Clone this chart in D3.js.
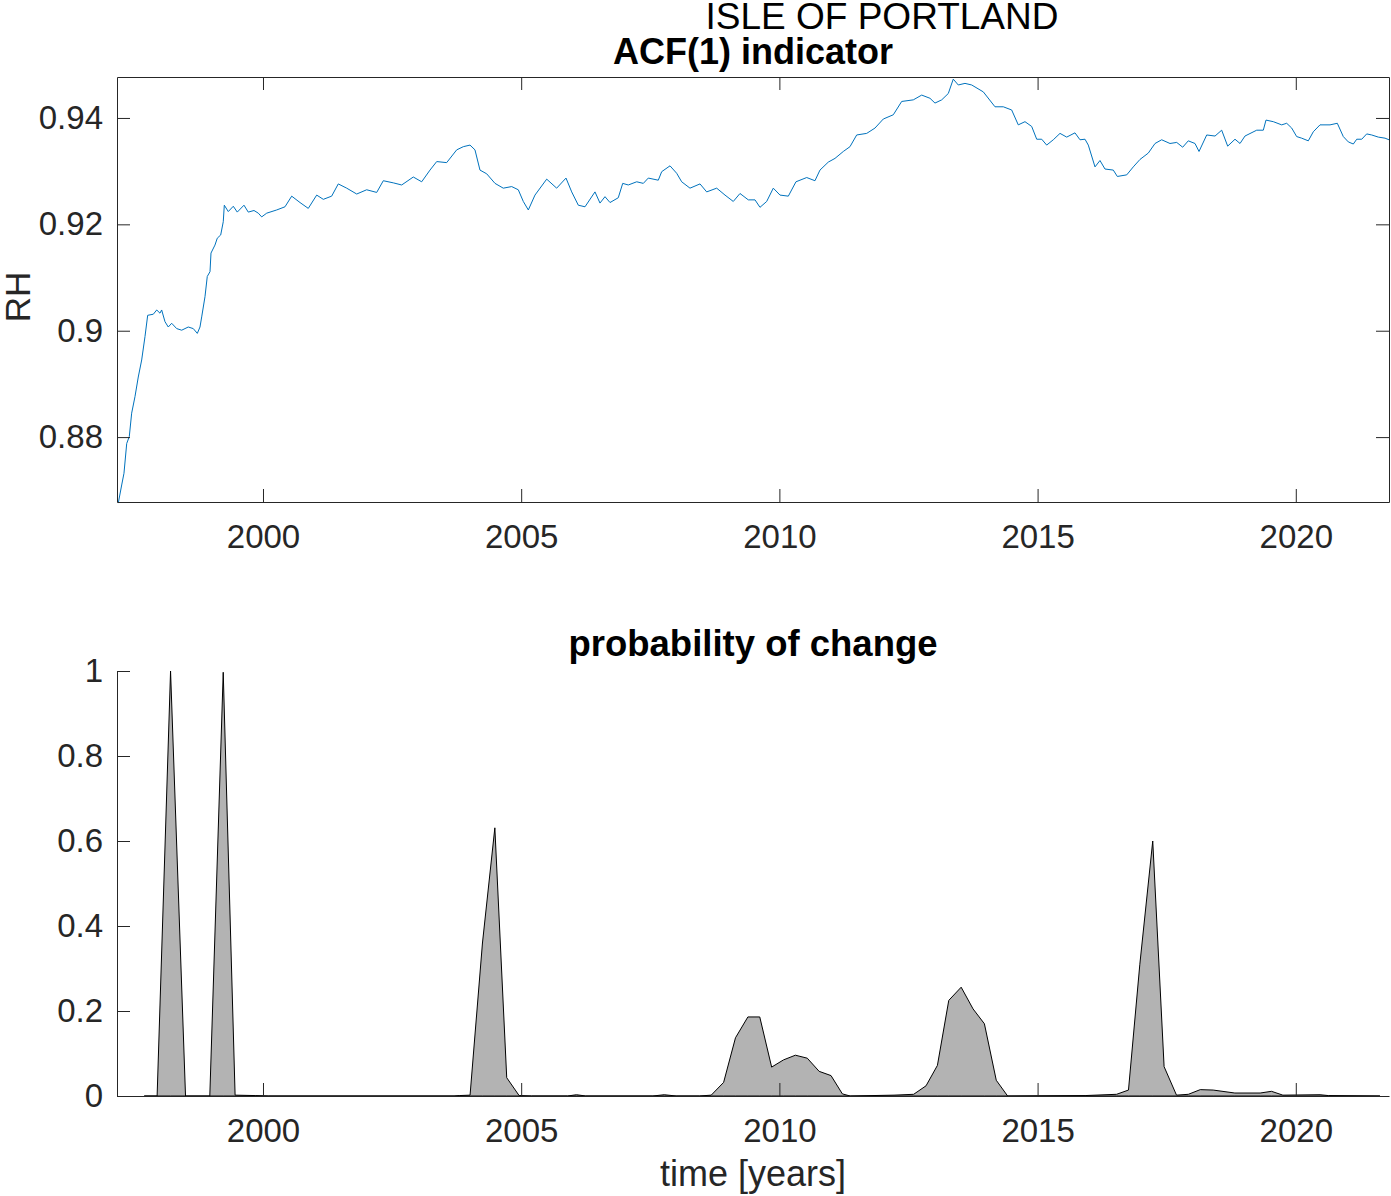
<!DOCTYPE html>
<html><head><meta charset="utf-8">
<script src="https://cdn.jsdelivr.net/npm/d3@7"></script>
<style>
body{margin:0;background:#fff}
text{font-family:"Liberation Sans",Arial,Helvetica,sans-serif}
</style>
</head><body>
<svg id="chart" width="1391" height="1196"></svg>
<script>
// ---------------- data ----------------
const acfYears = [1997.198,1997.264,1997.308,1997.361,1997.411,1997.457,1997.521,1997.585,1997.651,1997.715,
1997.767,1997.876,1997.942,1998.005,1998.038,1998.102,1998.166,1998.232,1998.329,1998.426,
1998.553,1998.650,1998.728,1998.780,1998.813,1998.877,1998.921,1998.974,1998.993,1999.070,
1999.115,1999.181,1999.231,1999.251,1999.328,1999.425,1999.502,1999.632,1999.715,1999.826,
1999.909,1999.975,2000.072,2000.265,2000.426,2000.556,2000.717,2000.877,2001.040,2001.168,
2001.330,2001.458,2001.621,2001.815,2002.008,2002.202,2002.330,2002.523,2002.686,2002.911,
2003.073,2003.234,2003.364,2003.557,2003.751,2003.879,2004.009,2004.105,2004.202,2004.332,
2004.493,2004.653,2004.816,2004.944,2005.041,2005.138,2005.267,2005.494,2005.687,2005.868,
2005.978,2006.106,2006.236,2006.429,2006.526,2006.623,2006.720,2006.880,2006.966,2007.074,
2007.237,2007.365,2007.461,2007.655,2007.721,2007.882,2008.011,2008.108,2008.269,2008.463,
2008.592,2008.786,2008.947,2009.107,2009.237,2009.398,2009.528,2009.624,2009.754,2009.882,
2010.012,2010.173,2010.321,2010.529,2010.689,2010.786,2010.947,2011.077,2011.238,2011.367,
2011.497,2011.691,2011.851,2012.012,2012.206,2012.368,2012.593,2012.756,2012.916,2013.013,
2013.143,2013.271,2013.367,2013.464,2013.594,2013.724,2013.949,2014.175,2014.336,2014.498,
2014.626,2014.756,2014.886,2014.983,2015.080,2015.176,2015.304,2015.434,2015.564,2015.724,
2015.821,2015.918,2015.982,2016.112,2016.208,2016.305,2016.466,2016.544,2016.726,2016.853,
2016.983,2017.144,2017.274,2017.403,2017.564,2017.694,2017.810,2017.918,2018.048,2018.126,
2018.275,2018.436,2018.565,2018.681,2018.823,2018.920,2019.016,2019.243,2019.371,2019.423,
2019.565,2019.727,2019.824,2019.921,2020.017,2020.114,2020.242,2020.339,2020.469,2020.663,
2020.804,2020.920,2021.017,2021.114,2021.180,2021.277,2021.373,2021.470,2021.598,2021.728,
2021.805];
const acfValues = [0.8676,0.8710,0.8732,0.8788,0.8801,0.8845,0.8876,0.8913,0.8945,0.8989,
0.9029,0.9031,0.9039,0.9033,0.9039,0.9017,0.9007,0.9014,0.9004,0.9001,
0.9007,0.9004,0.8995,0.9007,0.9026,0.9064,0.9102,0.9111,0.9146,0.9161,
0.9174,0.9180,0.9205,0.9236,0.9224,0.9234,0.9223,0.9236,0.9223,0.9226,
0.9221,0.9214,0.9221,0.9227,0.9233,0.9253,0.9241,0.9230,0.9255,0.9247,
0.9253,0.9276,0.9268,0.9257,0.9265,0.9260,0.9282,0.9278,0.9274,0.9289,
0.9280,0.9302,0.9318,0.9316,0.9340,0.9346,0.9349,0.9340,0.9302,0.9295,
0.9277,0.9268,0.9271,0.9265,0.9243,0.9227,0.9255,0.9285,0.9268,0.9287,
0.9261,0.9236,0.9233,0.9261,0.9240,0.9252,0.9241,0.9250,0.9277,0.9274,
0.9280,0.9277,0.9287,0.9283,0.9299,0.9310,0.9296,0.9280,0.9268,0.9276,
0.9261,0.9268,0.9255,0.9243,0.9258,0.9246,0.9246,0.9232,0.9243,0.9268,
0.9255,0.9253,0.9280,0.9288,0.9282,0.9302,0.9317,0.9324,0.9337,0.9346,
0.9368,0.9371,0.9381,0.9398,0.9406,0.9431,0.9434,0.9443,0.9437,0.9428,
0.9434,0.9446,0.9473,0.9462,0.9465,0.9462,0.9449,0.9421,0.9421,0.9415,
0.9387,0.9393,0.9384,0.9360,0.9360,0.9349,0.9359,0.9371,0.9364,0.9372,
0.9359,0.9360,0.9349,0.9308,0.9320,0.9304,0.9302,0.9290,0.9293,0.9308,
0.9322,0.9334,0.9352,0.9359,0.9352,0.9354,0.9345,0.9357,0.9352,0.9337,
0.9368,0.9366,0.9377,0.9347,0.9360,0.9352,0.9366,0.9377,0.9377,0.9396,
0.9393,0.9387,0.9390,0.9381,0.9365,0.9362,0.9357,0.9374,0.9387,0.9387,
0.9390,0.9365,0.9355,0.9351,0.9360,0.9360,0.9370,0.9368,0.9364,0.9362,
0.9359];

const probYears = [1997.70,1997.95,1998.21,1998.50,1998.97,1999.23,1999.46,1999.85,2000.10,
2003.70,2003.80,2004.01,2004.25,2004.49,2004.72,2004.96,2005.20,
2005.90,2006.07,2006.25,2007.55,2007.77,2008.00,
2008.45,2008.68,2008.92,2009.15,2009.39,2009.62,2009.85,2010.08,2010.31,2010.54,2010.77,2011.00,2011.22,2011.37,
2012.22,2012.60,2012.84,2013.06,2013.28,2013.52,2013.75,2013.97,2014.20,2014.42,
2015.92,2016.53,2016.76,2016.98,2017.23,2017.45,2017.69,2017.92,2018.15,2018.40,2018.82,
2019.31,2019.53,2019.75,2020.47,2020.63,2021.63];
const probValues = [0,0,1.0,0,0,0.997,0.002,0.001,0,
0,0.001,0.002,0.36,0.631,0.043,0.001,0,
0,0.003,0,0,0.003,0,
0,0.002,0.032,0.137,0.186,0.186,0.068,0.085,0.096,0.089,0.058,0.048,0.005,0,
0.002,0.004,0.024,0.072,0.225,0.256,0.205,0.170,0.037,0,
0.001,0.004,0.014,0.31,0.600,0.069,0.002,0.004,0.015,0.014,0.007,
0.007,0.011,0.002,0.003,0.001,0];

const xTickValues = [2000, 2005, 2010, 2015, 2020];
const acfTickValues = [0.88, 0.90, 0.92, 0.94];
const acfTickLabels = ["0.88", "0.9", "0.92", "0.94"];
const probTickValues = [0, 0.2, 0.4, 0.6, 0.8, 1];
const probTickLabels = ["0", "0.2", "0.4", "0.6", "0.8", "1"];
const xDomain = [1997.173, 2021.805];
const acfDomain = [0.8678, 0.9477];
const probDomain = [0, 1];

const superTitle = "ISLE OF PORTLAND";
const topTitle = "ACF(1) indicator";
const bottomTitle = "probability of change";
const topYLabel = "RH";
const bottomXLabel = "time [years]";

// ---------------- drawing ----------------
const svg = d3.select("#chart");
const AX = "#262626";
const L = 117, R = 1389;
const T1 = 77, B1 = 502;
const T2 = 671, B2 = 1096;
const tick = 13;

const x = d3.scaleLinear().domain(xDomain).range([L, R]);
const y1 = d3.scaleLinear().domain(acfDomain).range([B1, T1]);
const y2 = d3.scaleLinear().domain(probDomain).range([B2, T2]);

function styleAxis(g, withLabels){
  g.selectAll("path.domain").attr("stroke", AX).attr("stroke-width", 1);
  g.selectAll(".tick line").attr("stroke", AX).attr("stroke-width", 1);
  g.selectAll(".tick text").attr("fill", AX).attr("font-size", 33)
    .attr("font-family", '"Liberation Sans",Arial,Helvetica,sans-serif');
  if(!withLabels) g.selectAll(".tick text").remove();
}

// ---- top axes ----
const gTop = svg.append("g");
gTop.append("path")
  .datum(acfYears.map((t,i)=>[t, acfValues[i]]))
  .attr("fill","none").attr("stroke","#0072BD").attr("stroke-width",1)
  .attr("stroke-linejoin","round")
  .attr("d", d3.line().x(d=>x(d[0])).y(d=>y1(d[1])));

const xb1 = gTop.append("g").attr("transform",`translate(0,${B1})`)
  .call(d3.axisBottom(x).tickValues(xTickValues).tickFormat(d3.format("d"))
    .tickSizeInner(-tick).tickSizeOuter(0).tickPadding(23));
styleAxis(xb1, true);
const xt1 = gTop.append("g").attr("transform",`translate(0,${T1})`)
  .call(d3.axisTop(x).tickValues(xTickValues).tickSizeInner(-tick).tickSizeOuter(0));
styleAxis(xt1, false);
const yl1 = gTop.append("g").attr("transform",`translate(${L},0)`)
  .call(d3.axisLeft(y1).tickValues(acfTickValues).tickFormat((d,i)=>acfTickLabels[i])
    .tickSizeInner(-tick).tickSizeOuter(0).tickPadding(14));
styleAxis(yl1, true);
const yr1 = gTop.append("g").attr("transform",`translate(${R},0)`)
  .call(d3.axisRight(y1).tickValues(acfTickValues).tickSizeInner(-tick).tickSizeOuter(0));
styleAxis(yr1, false);

gTop.append("text").attr("x",(L+R)/2).attr("y",64).attr("text-anchor","middle")
  .attr("font-size",36).attr("font-weight","bold").attr("fill","#000").text(topTitle);
gTop.append("text").attr("transform",`translate(30,297) rotate(-90)`).attr("text-anchor","middle")
  .attr("font-size",35).attr("fill",AX).text(topYLabel);

svg.append("text").attr("x",882).attr("y",29).attr("text-anchor","middle")
  .attr("font-size",37).attr("fill","#000").text(superTitle);

// ---- bottom axes ----
const gBot = svg.append("g");
gBot.append("path")
  .datum(probYears.map((t,i)=>[t, probValues[i]]))
  .attr("fill","#b3b3b3").attr("stroke","#000").attr("stroke-width",1)
  .attr("stroke-linejoin","round")
  .attr("d", d3.area().x(d=>x(d[0])).y0(y2(0)).y1(d=>y2(d[1])));

const xb2 = gBot.append("g").attr("transform",`translate(0,${B2})`)
  .call(d3.axisBottom(x).tickValues(xTickValues).tickFormat(d3.format("d"))
    .tickSizeInner(-tick).tickSizeOuter(0).tickPadding(23));
styleAxis(xb2, true);
const yl2 = gBot.append("g").attr("transform",`translate(${L},0)`)
  .call(d3.axisLeft(y2).tickValues(probTickValues).tickFormat((d,i)=>probTickLabels[i])
    .tickSizeInner(-tick).tickSizeOuter(0).tickPadding(14));
styleAxis(yl2, true);

gBot.append("text").attr("x",(L+R)/2).attr("y",656).attr("text-anchor","middle")
  .attr("font-size",36.5).attr("font-weight","bold").attr("fill","#000").text(bottomTitle);
gBot.append("text").attr("x",(L+R)/2).attr("y",1186).attr("text-anchor","middle")
  .attr("font-size",36).attr("fill",AX).text(bottomXLabel);
</script>
</body></html>
